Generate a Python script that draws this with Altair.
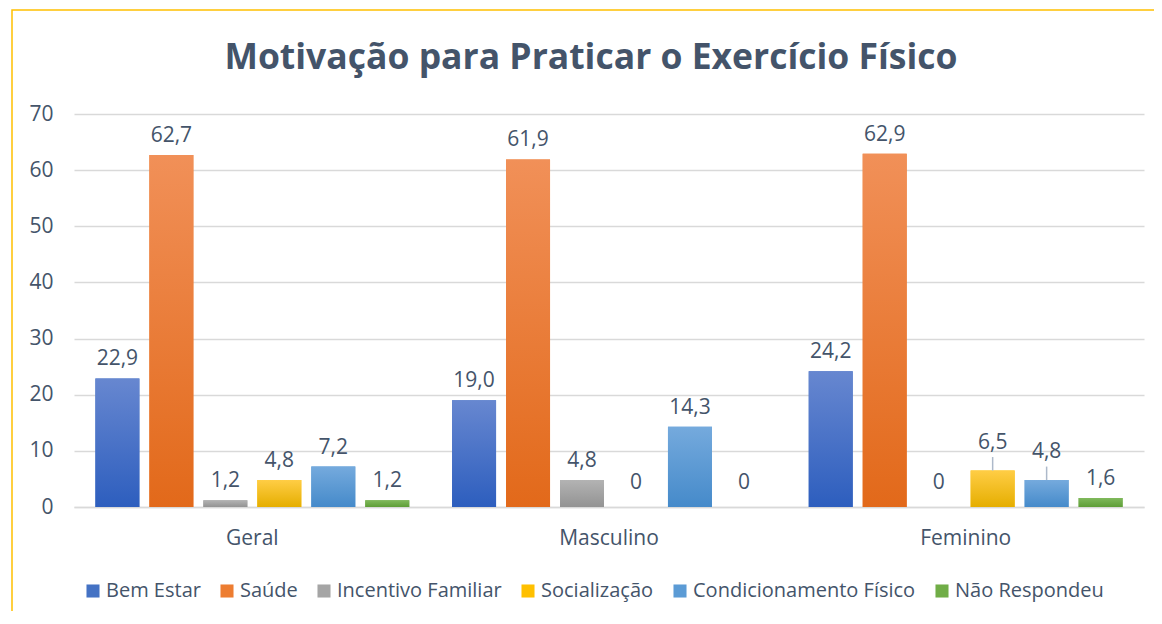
import altair as alt
import pandas as pd

titulo = "Motivação para Praticar o Exercício Físico"
grupos = ["Geral", "Masculino", "Feminino"]
series = ["Bem Estar", "Saúde", "Incentivo Familiar", "Socialização",
          "Condicionamento Físico", "Não Respondeu"]
bem_estar = [22.9, 19.0, 24.2]
saude = [62.7, 61.9, 62.9]
incentivo = [1.2, 4.8, 0]
socializacao = [4.8, 0, 6.5]
condicionamento = [7.2, 14.3, 4.8]
nao_respondeu = [1.2, 0, 1.6]
cores = ["#4472C4", "#ED7D31", "#A5A5A5", "#FFC000", "#5B9BD5", "#70AD47"]
cores_topo = ["#6787D0", "#F19058", "#B3B3B3", "#FFCD45", "#75AADD", "#80B95C"]
cores_base = ["#2D5EBE", "#E2691A", "#939393", "#E5AE00", "#458ACA", "#5E9E37"]
y_ticks = [0, 10, 20, 30, 40, 50, 60, 70]
# labels that Excel moved up with a leader line
ajustados = [("Feminino", "Socialização"), ("Feminino", "Condicionamento Físico")]

valores = [bem_estar, saude, incentivo, socializacao, condicionamento, nao_respondeu]
rows = []
for s, vals in zip(series, valores):
    for g, v in zip(grupos, vals):
        rot = "0" if v == 0 else f"{v:.1f}".replace(".", ",")
        if (g, s) in ajustados:
            tipo = "ajustado"
        elif v == 0:
            tipo = "zero"
        else:
            tipo = "normal"
        rows.append({"grupo": g, "serie": s, "valor": v, "rotulo": rot, "tipo": tipo})
df = pd.DataFrame(rows)

FONT = "Open Sans"
TXT = "#44546A"

base = alt.Chart(df).encode(
    x=alt.X("grupo:N", sort=grupos, title=None,
            scale=alt.Scale(domain=grupos, paddingInner=0.12, paddingOuter=0.06),
            axis=alt.Axis(labelAngle=0, labelFontSize=21, labelFont=FONT, labelColor=TXT,
                          labelPadding=20, ticks=False, domainColor="#D9D9D9", domainWidth=1.5)),
    xOffset=alt.XOffset("serie:N", sort=series,
                        scale=alt.Scale(domain=series, paddingInner=0.185, paddingOuter=0)),
    y=alt.Y("valor:Q", title=None, scale=alt.Scale(domain=[0, 70], nice=False),
            axis=alt.Axis(values=y_ticks, labelFontSize=21, labelFont=FONT, labelColor=TXT,
                          labelPadding=21, ticks=False, domain=False,
                          gridColor="#D9D9D9", gridWidth=1.5)),
)

um = pd.DataFrame({"a": [0]})
borda = alt.Chart(um).mark_rect(
    filled=False, stroke="#FFC000", strokeWidth=1.5
).encode(x=alt.value(-62), x2=alt.value(1110), y=alt.value(-104), y2=alt.value(600))

texto_titulo = alt.Chart(um).mark_text(
    fontSize=35.5, font=FONT, fontWeight="bold", color=TXT, align="center", baseline="alphabetic"
).encode(x=alt.value(517), y=alt.value(-45), text=alt.value(titulo))

bars = base.mark_bar().encode(
    color=alt.Color("serie:N", sort=series, scale=alt.Scale(domain=series, range=cores),
                    legend=alt.Legend(title=None, orient="none", direction="horizontal",
                                      legendX=9, legendY=467,
                                      symbolType="square", symbolSize=170, symbolStrokeWidth=0,
                                      labelFontSize=20, labelFont=FONT, labelColor=TXT,
                                      labelLimit=400, labelOffset=3, columnPadding=16))
)

grad_layers = []
for s, c1, c2 in zip(series, cores_topo, cores_base):
    grad = alt.Gradient(gradient="linear", x1=0, y1=0, x2=0, y2=1,
                        stops=[alt.GradientStop(color=c1, offset=0),
                               alt.GradientStop(color=c2, offset=1)])
    grad_layers.append(
        base.transform_filter(alt.datum.serie == s).mark_bar(color=grad)
    )

txt_normal = base.transform_filter(alt.datum.tipo == "normal").mark_text(
    dy=-13, baseline="alphabetic", fontSize=21, font=FONT, color=TXT
).encode(text="rotulo:N")

txt_zero = base.transform_filter(alt.datum.tipo == "zero").mark_text(
    dy=-18, baseline="alphabetic", fontSize=21, font=FONT, color=TXT
).encode(text="rotulo:N")

txt_aj = base.transform_filter(alt.datum.tipo == "ajustado").mark_text(
    dy=-22, baseline="alphabetic", fontSize=21, font=FONT, color=TXT
).encode(text="rotulo:N")

lider = base.transform_filter(alt.datum.tipo == "ajustado").transform_calculate(
    topo="datum.valor + 2.4"
).mark_rule(color="#ADB9CA", strokeWidth=1.5).encode(y2="topo:Q")

chart = alt.layer(borda, texto_titulo, bars, *grad_layers, txt_normal, txt_zero, txt_aj, lider).properties(
    width=1070, height=393,
    autosize=alt.AutoSizeParams(type="none"),
    padding={"left": 66, "top": 106, "right": 10, "bottom": 104},
    background="white",
).configure_view(stroke=None)

chart.save("out.html", embed_options={"renderer": "svg", "actions": False})
